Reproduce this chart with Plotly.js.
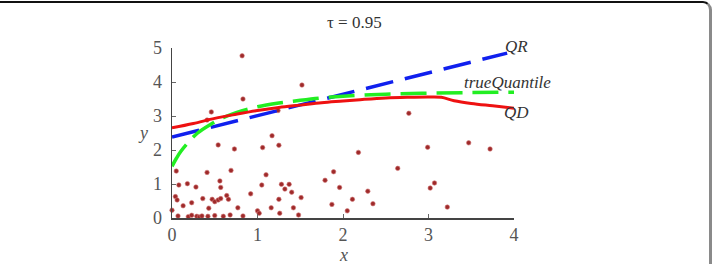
<!DOCTYPE html>
<html><head><meta charset="utf-8">
<script src="https://cdn.plot.ly/plotly-3.0.1.min.js"></script>
<style>
html,body{margin:0;padding:0;background:#fff;overflow:hidden;}
#frame{position:absolute;left:-20px;top:1px;width:732px;height:320px;box-sizing:border-box;border-top:2px solid #111;border-right:3px solid #8a8a8a;border-top-right-radius:9px;pointer-events:none;z-index:5;}
#chart{position:absolute;left:0;top:0;width:712px;height:264px;}
</style></head>
<body>
<div id="chart"></div><div id="frame"></div>
<script>
// Scatter sample points
var ptsX = [0.05,0.41,0.69,1.10,0.08,0.18,0.28,0.56,0.57,1.05,1.28,1.37,1.32,1.40,1.51,0.04,0.06,0.23,0.36,0.47,0.50,0.54,0.57,0.64,0.66,0.92,1.25,0.13,0.43,0.77,1.16,1.42,0.00,
  0.07,0.19,0.23,0.29,0.32,0.35,0.42,0.50,0.60,0.68,0.83,1.00,1.02,1.26,1.48,0.54,0.73,1.06,1.17,1.25,1.79,1.89,1.96,1.87,2.11,2.05,2.18,
  0.82,1.52,0.83,0.46,0.41,2.77,2.99,3.47,3.72,2.64,3.07,3.02,2.29,2.35,3.22,1.24];
var ptsY = [1.38,1.34,1.40,1.27,0.97,1.01,0.91,1.09,0.90,0.97,0.99,0.99,0.85,0.76,0.60,0.63,0.53,0.45,0.57,0.55,0.48,0.53,0.57,0.66,0.55,0.71,0.55,0.36,0.29,0.30,0.30,0.30,0.23,
  0.06,0.04,0.08,0.05,0.03,0.06,0.05,0.07,0.05,0.09,0.06,0.21,0.14,0.14,0.09,2.15,2.03,2.07,2.42,2.14,1.11,1.36,0.90,0.40,0.55,0.21,1.93,
  4.77,3.91,3.50,3.12,2.88,3.08,2.08,2.21,2.03,1.46,1.03,0.88,0.79,0.42,0.32,3.16];
// QR fit (linear)
var qrX = [0, 3.92];
var qrY = [2.38, 4.85];
// True quantile
var tqX = [0,0.05,0.1,0.2,0.3,0.45,0.6,0.75,1.0,1.25,1.5,1.75,2.0,2.5,3.0,3.5,4.0];
var tqY = [1.52,1.75,1.95,2.25,2.5,2.75,2.95,3.1,3.27,3.38,3.46,3.53,3.58,3.64,3.67,3.69,3.70];
// QD estimate
var qdX = [0,0.25,0.5,0.75,1.0,1.25,1.5,1.75,2.0,2.25,2.5,2.75,3.0,3.15,3.3,3.5,3.75,4.0];
var qdY = [2.65,2.78,2.93,3.05,3.16,3.25,3.32,3.39,3.44,3.49,3.53,3.55,3.56,3.55,3.45,3.37,3.30,3.23];
var xTicks = [0,1,2,3,4];
var yTicks = [0,1,2,3,4,5];

var serif = "'Liberation Serif', 'Times New Roman', 'DejaVu Serif', serif";
var traces = [
  {x: ptsX, y: ptsY, type:'scatter', mode:'markers', cliponaxis:false,
   marker:{color:'#9e2a2a', size:4.5, line:{color:'rgba(210,120,120,0.6)', width:1}}},
  {x: qrX, y: qrY, type:'scatter', mode:'lines', cliponaxis:false,
   line:{color:'#1020ee', width:3.5, dash:'28px,12px'}},
  {x: tqX, y: tqY, type:'scatter', mode:'lines', cliponaxis:false,
   line:{color:'#22ee22', width:3.5, dash:'26px,10px', shape:'spline'}},
  {x: qdX, y: qdY, type:'scatter', mode:'lines', cliponaxis:false,
   line:{color:'#ee1111', width:3, shape:'spline'}}
];
var layout = {
  width:712, height:264,
  margin:{l:172, r:198, t:48, b:46},
  paper_bgcolor:'#fff', plot_bgcolor:'#fff',
  showlegend:false,
  font:{family:serif, color:'#555'},
  xaxis:{range:[0,4], tickvals:xTicks, ticktext:xTicks.map(String), showgrid:false, zeroline:false,
    showline:true, linecolor:'#444', linewidth:1.5, ticks:'inside', ticklen:4, tickcolor:'#666',
    tickfont:{size:18, family:serif, color:'#555'}, fixedrange:true},
  yaxis:{range:[0,5], tickvals:yTicks, ticktext:yTicks.map(String), showgrid:false, zeroline:false,
    showline:true, linecolor:'#444', linewidth:1.5, ticks:'inside', ticklen:4, tickcolor:'#666',
    tickfont:{size:18, family:serif, color:'#555'}, ticklabelstandoff:5, fixedrange:true},
  annotations:[
    {text:'τ = 0.95', xref:'paper', yref:'paper', x:0.535, y:1.0, yshift:26, xanchor:'center', yanchor:'middle', showarrow:false,
     font:{size:17, family:serif, color:'#333'}},
    {text:'<i>x</i>', xref:'paper', yref:'paper', x:0.5, y:0, yshift:-37, xanchor:'center', yanchor:'middle', showarrow:false,
     font:{size:18, family:serif, color:'#555'}},
    {text:'<i>y</i>', xref:'paper', yref:'paper', x:0, xshift:-29, y:0.5, xanchor:'center', yanchor:'middle', showarrow:false,
     font:{size:18, family:serif, color:'#555'}},
    {text:'<i>QR</i>', xref:'paper', yref:'paper', x:0.968, y:1.006, xanchor:'left', yanchor:'middle', showarrow:false,
     font:{size:17, family:serif, color:'#333'}},
    {text:'<i>trueQuantile</i>', xref:'paper', yref:'paper', x:0.849, y:0.80, xanchor:'left', yanchor:'middle', showarrow:false,
     font:{size:17, family:serif, color:'#333'}},
    {text:'<i>QD</i>', xref:'paper', yref:'paper', x:0.965, y:0.618, xanchor:'left', yanchor:'middle', showarrow:false,
     font:{size:17, family:serif, color:'#333'}}
  ]
};
Plotly.newPlot('chart', traces, layout, {staticPlot:true, displayModeBar:false});
</script>
</body></html>
